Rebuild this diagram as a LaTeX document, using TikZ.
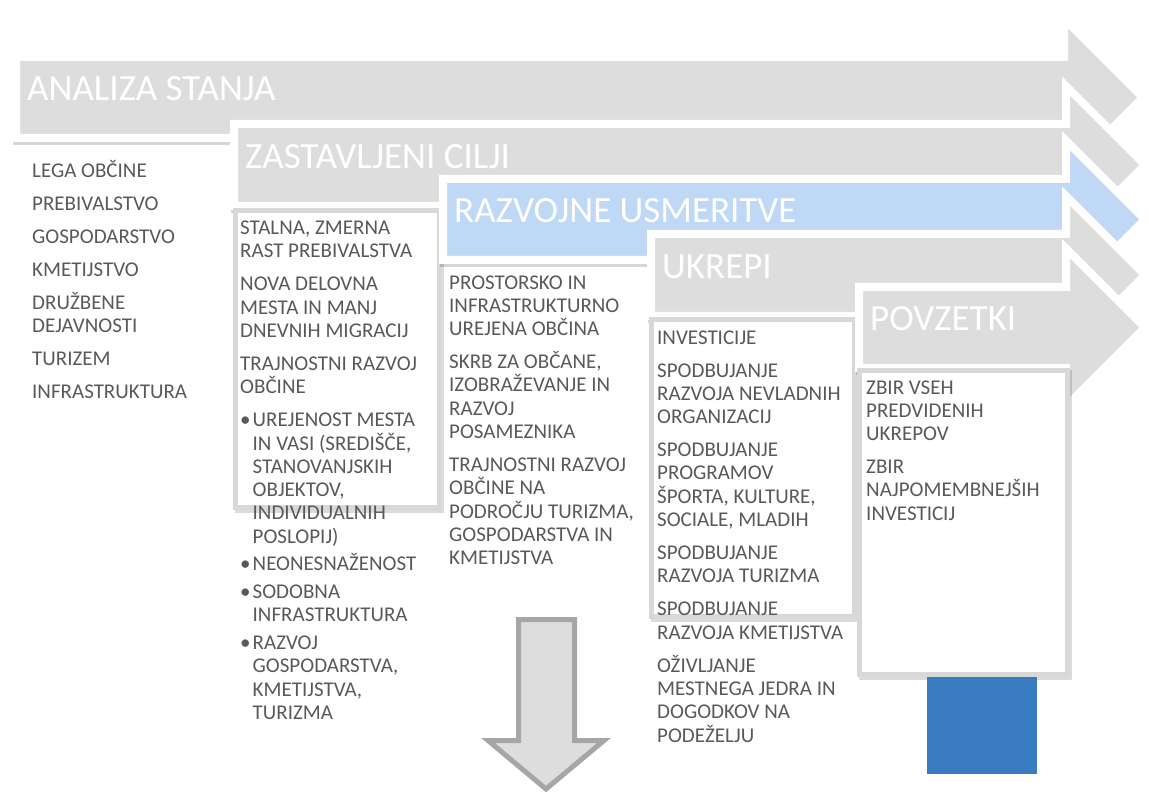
\documentclass[tikz,border=0pt]{standalone}
\usepackage{fontspec}
\setmainfont{Carlito}
\definecolor{stepgray}{RGB}{221,221,221}
\definecolor{stepblue}{RGB}{191,216,246}
\definecolor{boxline}{RGB}{216,216,216}
\definecolor{bodytext}{RGB}{89,89,89}
\definecolor{squareblue}{RGB}{56,123,191}
\definecolor{downline}{RGB}{166,166,166}
\usetikzlibrary{positioning}

% step arrow: left, top, bottom, centre, notch x, head half height
\newcommand{\steppath}[6]{({#1},{#2}) -- ({#5},{#2}) -- ({#5},{#4-(#6)}) -- ({#5+(#6)},{#4}) -- ({#5},{#4+(#6)}) -- ({#5},{#3}) -- ({#1},{#3}) -- cycle}

\tikzset{
  stepshape/.style={draw=white, line width=8pt, line join=miter, fill=stepgray},
  stepshadow/.style={fill=black, opacity=.16, shift={(1,3)}},
  stephead/.style={anchor=base west, inner sep=0pt, text=white, font=\fontsize{37}{40}\selectfont},
  listbox/.style={draw=boxline, line width=5pt, fill=white},
  listtext/.style={anchor=north west, inner sep=0pt, align=left, text=bodytext, font=\fontsize{21}{23.3}\selectfont},
}
\newcommand{\itemgap}{\\[9.7pt]}
\newcommand{\bulgap}{\\[4.4pt]}
\newcommand{\bul}{\makebox[12.5pt][l]{\textbullet}}
\newcommand{\bulin}{\hspace*{12.5pt}}

\begin{document}
\begin{tikzpicture}[x=1pt, y=-1pt]
  \useasboundingbox (0,0) rectangle (1149,794);

  % ANALIZA STANJA
  \fill[stepshadow] \steppath{12}{53}{142}{97.5}{1060}{84};
  \filldraw[stepshape] \steppath{16}{57}{138}{97.5}{1064}{79};
  \node[stephead] (analiza) at (27,101) {ANALIZA STANJA};

  % ZASTAVLJENI CILJI
  \fill[stepshadow] \steppath{230}{120}{210}{165}{1062}{84};
  \filldraw[stepshape] \steppath{234}{124}{206}{165}{1066}{79};
  \node[stephead] (zastavljeni) at (245,168.5) {ZASTAVLJENI CILJI};
  \fill[black, opacity=.14] (234.5,210.5) rectangle (443.5,512.5);
  \draw[listbox] (235.5,210.5) rectangle (439.5,507.5);

  % RAZVOJNE USMERITVE
  \fill[stepshadow] \steppath{439}{175}{264}{219.5}{1062}{84};
  \filldraw[stepshape, fill=stepblue] \steppath{443}{179}{260}{219.5}{1066}{79};
  \node[stephead] (razvojne) at (454,223) {RAZVOJNE USMERITVE};

  % UKREPI
  \fill[stepshadow] \steppath{647}{230}{320}{275}{1062}{84};
  \filldraw[stepshape] \steppath{651}{234}{316}{275}{1066}{79};
  \node[stephead] (ukrepi) at (662,278.5) {UKREPI};
  \fill[black, opacity=.14] (650.5,319.5) rectangle (858.5,621.5);
  \draw[listbox] (651.5,319.5) rectangle (854.5,616.5);

  % POVZETKI
  \fill[stepshadow] \steppath{855}{283}{372}{327.5}{1062}{84};
  \filldraw[stepshape] \steppath{859}{287}{368}{327.5}{1066}{79};
  \node[stephead] (povzetki) at (870,331) {POVZETKI};
  \fill[black, opacity=.14] (858.5,370.5) rectangle (1071.5,679.5);
  \draw[listbox] (859.5,370.5) rectangle (1067.5,674.5);

  \fill[squareblue] (927,677) rectangle (1037,774);

  \filldraw[fill=stepgray, draw=downline, line width=5pt, line join=miter]
    (518.5,619.5) -- (574.5,619.5) -- (574.5,740.5) -- (604,740.5)
    -- (546,789) -- (488,740.5) -- (518.5,740.5) -- cycle;

  \node[listtext] (stanje) at (32,158) {\rule{0pt}{19pt}LEGA OBČINE\itemgap
    PREBIVALSTVO\itemgap GOSPODARSTVO\itemgap KMETIJSTVO\itemgap
    DRUŽBENE\\DEJAVNOSTI\itemgap TURIZEM\itemgap INFRASTRUKTURA};

  \node[listtext] (cilji) at (240,215.3) {\rule{0pt}{19pt}STALNA, ZMERNA\\RAST PREBIVALSTVA\itemgap
    NOVA DELOVNA\\MESTA IN MANJ\\DNEVNIH MIGRACIJ\itemgap
    TRAJNOSTNI RAZVOJ\\OBČINE\itemgap
    \bul UREJENOST MESTA\\\bulin IN VASI (SREDIŠČE,\\\bulin STANOVANJSKIH\\\bulin OBJEKTOV,\\\bulin INDIVIDUALNIH\\\bulin POSLOPIJ)\bulgap
    \bul NEONESNAŽENOST\bulgap
    \bul SODOBNA\\\bulin INFRASTRUKTURA\bulgap
    \bul RAZVOJ\\\bulin GOSPODARSTVA,\\\bulin KMETIJSTVA,\\\bulin TURIZMA};

  \node[listtext] (usmeritve) at (449,269.8) {\rule{0pt}{19pt}PROSTORSKO IN\\INFRASTRUKTURNO\\UREJENA OBČINA\itemgap
    SKRB ZA OBČANE,\\IZOBRAŽEVANJE IN\\RAZVOJ\\POSAMEZNIKA\itemgap
    TRAJNOSTNI RAZVOJ\\OBČINE NA\\PODROČJU TURIZMA,\\GOSPODARSTVA IN\\KMETIJSTVA};

  \node[listtext] (ukrepilist) at (657,324.8) {\rule{0pt}{19pt}INVESTICIJE\itemgap
    SPODBUJANJE\\RAZVOJA NEVLADNIH\\ORGANIZACIJ\itemgap
    SPODBUJANJE\\PROGRAMOV\\ŠPORTA, KULTURE,\\SOCIALE, MLADIH\itemgap
    SPODBUJANJE\\RAZVOJA TURIZMA\itemgap
    SPODBUJANJE\\RAZVOJA KMETIJSTVA\itemgap
    OŽIVLJANJE\\MESTNEGA JEDRA IN\\DOGODKOV NA\\PODEŽELJU};

  \node[listtext] (povzetek) at (866,374.8) {\rule{0pt}{19pt}ZBIR VSEH\\PREDVIDENIH\\UKREPOV\itemgap
    ZBIR\\NAJPOMEMBNEJŠIH\\INVESTICIJ};
\end{tikzpicture}
\end{document}
